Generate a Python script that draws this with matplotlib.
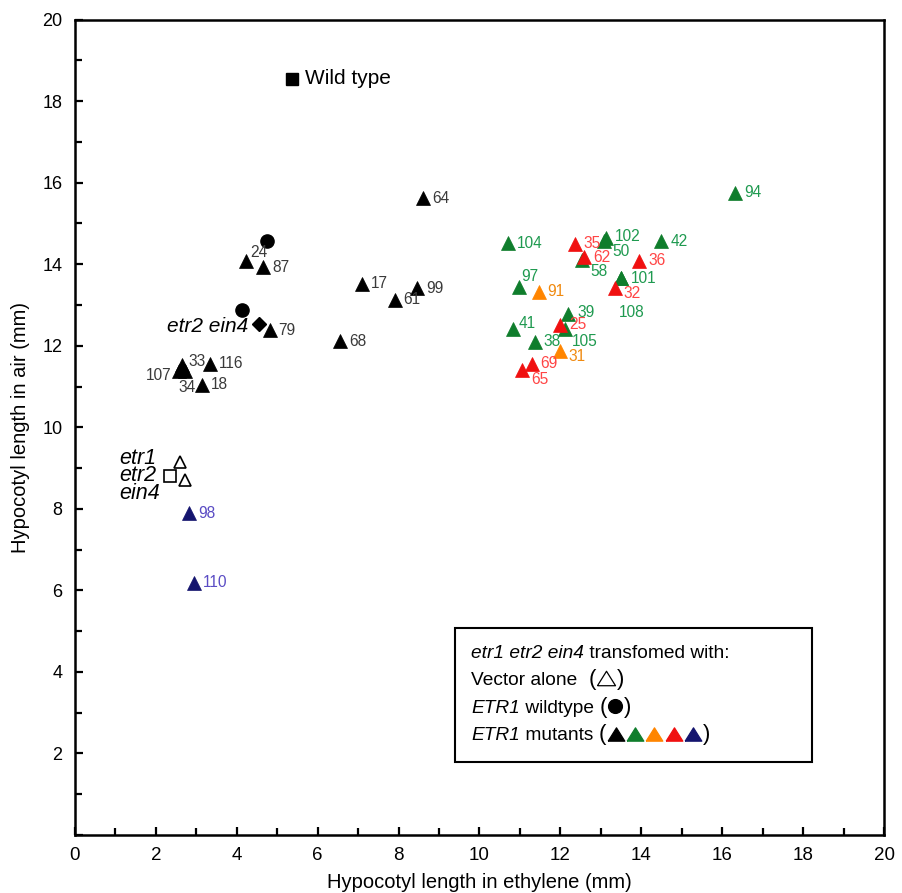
import matplotlib
matplotlib.use("Agg")
import matplotlib.pyplot as plt
from matplotlib.lines import Line2D
from matplotlib.patches import Rectangle
from matplotlib.offsetbox import TextArea, HPacker, VPacker, AnchoredOffsetbox, DrawingArea

plt.rcParams["font.family"] = ["Liberation Sans", "DejaVu Sans"]
NARROW = ["Liberation Sans Narrow", "Liberation Sans", "DejaVu Sans"]
SYM = ["Liberation Sans", "DejaVu Sans"]

# ETR1 突变体 (黑/绿/红/橙/蓝)
black_names = ["24", "87", "79", "107", "34", "33", "116", "18", "17", "61", "99", "64", "68"]
black_x = [4.22, 4.65, 4.81, 2.56, 2.73, 2.65, 3.33, 3.13, 7.10, 7.90, 8.46, 8.60, 6.56]
black_y = [14.07, 13.93, 12.38, 11.38, 11.38, 11.54, 11.56, 11.04, 13.52, 13.13, 13.41, 15.62, 12.11]

green_names = ["108", "104", "97", "41", "38", "39", "105", "102", "50", "58", "101", "42", "94"]
green_x = [13.51, 10.70, 10.97, 10.84, 11.36, 12.20, 12.12, 13.13, 13.07, 12.53, 13.51, 14.49, 16.32]
green_y = [13.66, 14.52, 13.45, 12.40, 12.10, 12.79, 12.40, 14.64, 14.56, 14.11, 13.66, 14.56, 15.75]

red_names = ["35", "62", "36", "32", "25", "69", "65"]
red_x = [12.35, 12.59, 13.95, 13.35, 11.99, 11.29, 11.05]
red_y = [14.50, 14.17, 14.09, 13.41, 12.52, 11.56, 11.41]

orange_names = ["91", "31"]
orange_x = [11.46, 11.98]
orange_y = [13.33, 11.86]

blue_names = ["98", "110"]
blue_x = [2.82, 2.94]
blue_y = [7.89, 6.19]

# 对照
wt_x, wt_y = 5.37, 18.55
etr_x, etr_y = 4.55, 12.53          # etr2 ein4 (菱形)
vec_sq_x, vec_sq_y = 2.36, 8.81      # etr1 etr2 ein4
vec_x = [2.59, 2.72]
vec_y = [9.14, 8.71]
wtcirc_x = [4.75, 4.12]
wtcirc_y = [14.58, 12.88]

# 标签偏移 (points)
label_offsets = {
    "24": (3, 6.5), "107": (-5, -3), "33": (4.3, 2.5), "34": (-5, -11.5),
    "97": (2, 7), "41": (3.5, 4.3), "50": (6.5, -7), "102": (6, 1.5),
    "58": (6, -8.5), "32": (6, -3.5), "108": (-2, -25), "105": (5, -8.5),
    "65": (6.5, -7), "31": (6.5, -3.5), "39": (6.5, 1),
}
label_ha = {"107": "right"}

BLACK, GREEN, RED, ORANGE, BLUE = "#000000", "#0f7d2c", "#f01010", "#ff8500", "#14146e"
groups = [
    (black_names, black_x, black_y, BLACK, "#3a3a3a"),
    (green_names, green_x, green_y, GREEN, "#1f9a50"),
    (red_names, red_x, red_y, RED, "#ff4545"),
    (orange_names, orange_x, orange_y, ORANGE, "#f08a10"),
    (blue_names, blue_x, blue_y, BLUE, "#5a4cc4"),
]
legend_colors = [BLACK, GREEN, ORANGE, RED, BLUE]

fig = plt.figure(figsize=(9.03, 8.93), dpi=100)
ax = fig.add_axes([0.083, 0.065, 0.896, 0.913])

MS = 10
for names, xs, ys, mc, tc in groups:
    for n, x, y in zip(names, xs, ys):
        ax.plot(x, y, marker="^", ms=MS, color=mc, mec=mc, mew=0.5, ls="none", zorder=3)
        dx, dy = label_offsets.get(n, (6.5, 0))
        ax.annotate(n, (x, y), xytext=(dx, dy), textcoords="offset points",
                    ha=label_ha.get(n, "left"), va="center", fontsize=11.2, color=tc, zorder=4)

# wild type
ax.plot(wt_x, wt_y, marker="s", ms=9, color="black", ls="none")
ax.annotate("Wild type", (wt_x, wt_y), xytext=(9.5, 0), textcoords="offset points",
            ha="left", va="center", fontsize=15)

# etr2 ein4
ax.plot(etr_x, etr_y, marker="D", ms=7.5, color="black", ls="none", zorder=3)
ax.annotate("etr2 ein4", (etr_x, etr_y), xytext=(-8, -2), textcoords="offset points",
            ha="right", va="center", fontsize=15, style="italic")

# ETR1 wildtype
ax.plot(wtcirc_x, wtcirc_y, marker="o", ms=9.5, color="black", ls="none", zorder=3)

# vector alone
ax.plot(vec_x, vec_y, marker="^", ms=9, mfc="white", mec="black", mew=1.2, ls="none", zorder=3)
ax.plot(vec_sq_x, vec_sq_y, marker="s", ms=9, mfc="white", mec="black", mew=1.2, ls="none", zorder=3)
ax.annotate("etr1\netr2\nein4", (vec_sq_x, vec_sq_y), xytext=(-36.5, 0), textcoords="offset points",
            ha="left", va="center", fontsize=15.5, style="italic", linespacing=0.8)

ax.set_xlim(0, 20)
ax.set_ylim(0, 20)
ax.set_xticks(range(0, 21, 2))
ax.set_xticks(range(1, 20, 2), minor=True)
ax.set_yticks(range(0, 21, 2))
ax.set_yticks(range(1, 20, 2), minor=True)
ax.set_yticklabels(["" if v == 0 else str(v) for v in range(0, 21, 2)])
ax.tick_params(which="both", direction="in", top=False, right=False, width=1.6)
ax.tick_params(which="major", length=6)
ax.tick_params(which="minor", length=5)
ax.tick_params(axis="x", pad=9)
ax.tick_params(axis="y", pad=9)
for lab in ax.get_xticklabels():
    lab.set_fontfamily(NARROW)
    lab.set_fontsize(13.5)
for lab in ax.get_yticklabels():
    lab.set_fontsize(13)
for sp in ax.spines.values():
    sp.set_linewidth(1.8)

ax.set_xlabel("Hypocotyl length in ethylene (mm)", fontsize=14.5, family=NARROW, labelpad=6)
ax.set_ylabel("Hypocotyl length in air (mm)", fontsize=14.5, family=NARROW, labelpad=9)

# 图例框
ax.add_patch(Rectangle((0.4697, 0.0896), 0.441, 0.1644, transform=ax.transAxes,
                       fill=False, lw=1.5, zorder=5))
fs = 13.8
def ta(s, **kw):
    props = dict(fontsize=fs, family=SYM)
    props.update(kw)
    return TextArea(s, textprops=props)

TRI = [(-1, -0.8), (1, -0.8), (0, 0.8), (-1, -0.8)]
def sym_area(colors, marker=TRI, ms=12, filled=True, pitch=13.8):
    w = 2 + pitch * (len(colors) - 1) + ms
    da = DrawingArea(w, 12, 0, 0)
    for i, c in enumerate(colors):
        kw = dict(mfc=c) if filled else dict(mfc="none")
        da.add_artist(Line2D([1 + ms / 2 + pitch * i], [4.9], marker=marker, ms=ms,
                             mec=c, mew=0.9, ls="none", **kw))
    return da

par = dict(fontsize=16)
line1 = HPacker(children=[ta("etr1 etr2 ein4", style="italic"), ta(" transfomed with:")], sep=0, pad=0)
line2 = HPacker(children=[ta("Vector alone  "), ta("(", **par), sym_area(["black"], ms=13, filled=False),
                          ta(")", **par)], sep=0, pad=0, align="baseline")
line3 = HPacker(children=[ta("ETR1", style="italic"), ta(" wildtype "), ta("(", **par),
                          sym_area(["black"], marker="o", ms=10), ta(")", **par)],
                sep=0, pad=0, align="baseline")
line4 = HPacker(children=[ta("ETR1", style="italic"), ta(" mutants "), ta("(", **par),
                          sym_area(legend_colors), ta(")", **par)],
                sep=0, pad=0, align="baseline")
box = VPacker(children=[line1, line2, line3, line4], sep=4.3, pad=0, align="left")
anch = AnchoredOffsetbox(loc="upper left", child=box, pad=0, borderpad=0, frameon=False,
                         bbox_to_anchor=(0.490, 0.2324), bbox_transform=ax.transAxes)
ax.add_artist(anch)

plt.savefig("out.png", dpi=100)
plt.close()
